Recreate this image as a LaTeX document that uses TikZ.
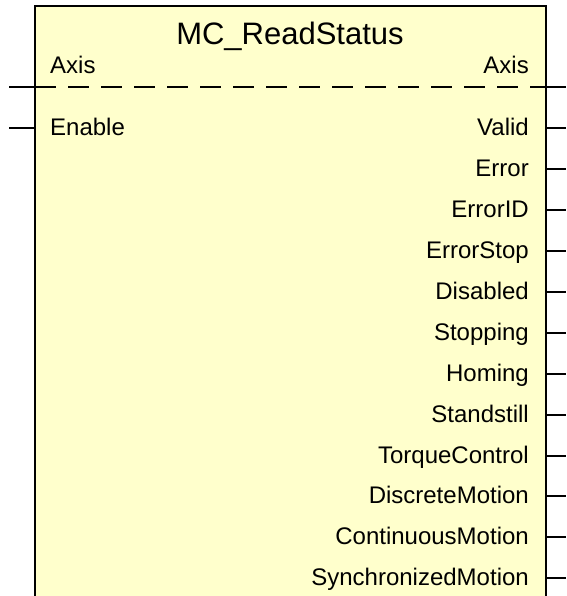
\documentclass[tikz,border=0pt]{standalone}
\usepackage{fontspec}
\setmainfont{Liberation Sans}
\begin{document}
\begin{tikzpicture}[x=1pt,y=-1pt,
  fbfill/.style={fill={rgb,255:red,255;green,255;blue,204}},
  edge/.style={line width=2pt,black},
  pin/.style={line width=2pt,black},
  pinlabel/.style={inner sep=0pt,font=\fontsize{24}{28}\selectfont},
  title/.style={inner sep=0pt,font=\fontsize{31}{36}\selectfont}]
\useasboundingbox (0,0) rectangle (566,596);
% function block body (open at the bottom)
\fill[fbfill] (35,6) rectangle (545.5,600);
\coordinate (tl) at (35,6);
\coordinate (tr) at (545.5,6);
\coordinate (bl) at (35,600);
\coordinate (br) at (545.5,600);
\draw[edge] (bl) -- (tl) -- (tr) -- (br);
% title
\node[title,anchor=base] (name) at (290,45) {MC\_ReadStatus};
% Axis in/out pair with dashed separator
\node[pinlabel,anchor=base west] (axisin) at (50,74) {Axis};
\node[pinlabel,anchor=base east] (axisout) at (529,74) {Axis};
\coordinate (axL) at (35,87);
\coordinate (axR) at (545.5,87);
\coordinate (axLend) at (9,87);
\coordinate (axRend) at (566,87);
\draw[pin] (axLend) -- (axL);
\draw[pin] (axR) -- (axRend);
\draw[pin,dash pattern=on 21pt off 12pt] (axL) -- (axR);
% input
\node[pinlabel,anchor=base west] (enable) at (50,135.8) {Enable};
\coordinate (enL) at (35,128.3);
\coordinate (enLend) at (9,128.3);
\draw[pin] (enLend) -- (enL);
% outputs
\foreach \lab [count=\i from 0] in {Valid,Error,ErrorID,ErrorStop,Disabled,Stopping,Homing,Standstill,TorqueControl,DiscreteMotion,ContinuousMotion,SynchronizedMotion}{
  \pgfmathsetmacro{\yy}{128.3+40.9*\i}
  \node[pinlabel,anchor=base east] (out\i) at (529,\yy+7.5) {\lab};
  \coordinate (oR\i) at (545.5,\yy);
  \coordinate (oE\i) at (566,\yy);
  \draw[pin] (oR\i) -- (oE\i);
}
\end{tikzpicture}
\end{document}
